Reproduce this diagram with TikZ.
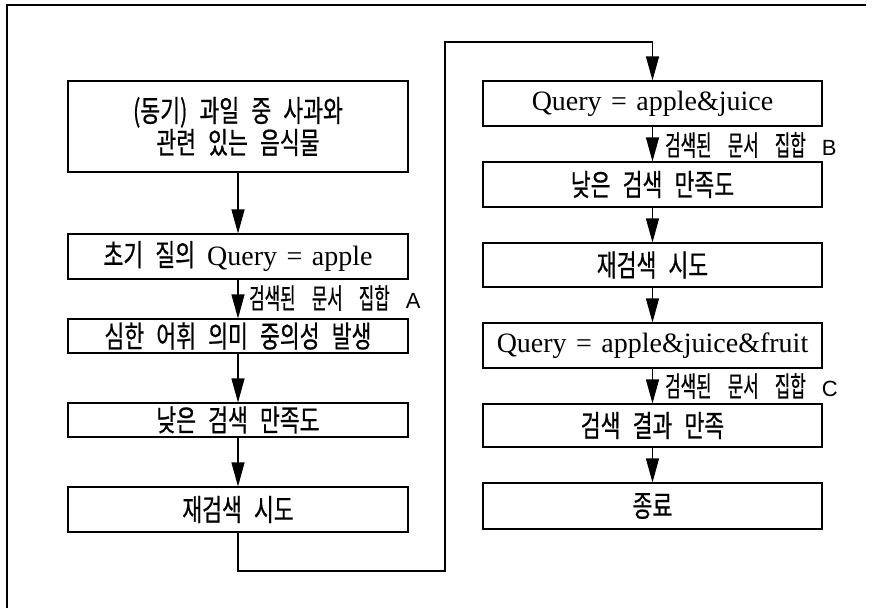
\documentclass[tikz,border=0pt]{standalone}
\usepackage{fontspec}
\setmainfont[WordSpace=1.35]{Liberation Serif}
\newfontfamily\kr[FakeStretch=0.72,WordSpace=2.5,FakeBold=0.6]{Noto Sans CJK KR}
\newfontfamily\krlab[FakeStretch=0.6,WordSpace=4.3,FakeBold=0.5]{Noto Sans CJK KR}
\newfontfamily\lab{Liberation Sans}
\usetikzlibrary{arrows.meta}
\begin{document}
\begin{tikzpicture}[x=1pt,y=-1pt,
  stepbox/.style={draw,line width=1.1pt,inner sep=0pt,align=center,
    font=\kr\fontsize{30}{32}\selectfont},
  lbox/.style={stepbox,minimum width=340pt},
  rbox/.style={stepbox,minimum width=339pt},
  flow/.style={line width=1.1pt,-{Triangle[length=24pt,width=13pt]}},
  setlabel/.style={anchor=west,inner sep=0pt,font=\krlab\fontsize{28}{30}\selectfont},
  qtext/.style={font=\rmfamily\fontsize{28}{32}\selectfont}]
\useasboundingbox (0,0) rectangle (872,608);
% outer frame (top and left edges)
\draw[line width=1.3pt] (7,608) -- (7,5) -- (866,5);

% left column
\node[lbox,minimum height=91pt] (b1) at (238,126.5) {(동기) 과일 중 사과와\\관련 있는 음식물};
\node[lbox,minimum height=45pt] (b2) at (238,256.5) {초기 질의 {\rmfamily\fontsize{28}{32}\selectfont Query = apple}};
\node[lbox,minimum height=34pt] (b3) at (238,336) {심한 어휘 의미 중의성 발생};
\node[lbox,minimum height=34pt] (b4) at (238,420) {낮은 검색 만족도};
\node[lbox,minimum height=45pt] (b5) at (238,509.5) {재검색 시도};

% right column
\node[rbox,minimum height=45pt,qtext] (b6) at (652.5,103.5) {Query = apple\&juice};
\node[rbox,minimum height=45pt] (b7) at (652.5,184.5) {낮은 검색 만족도};
\node[rbox,minimum height=44pt] (b8) at (652.5,265) {재검색 시도};
\node[rbox,minimum height=45pt,qtext] (b9) at (652.5,345.5) {Query = apple\&juice\&fruit};
\node[rbox,minimum height=43pt] (b10) at (652.5,425.5) {검색 결과 만족};
\node[rbox,minimum height=46pt] (b11) at (652.5,506) {종료};

% connectors
\draw[flow] (b1) -- (b2);
\draw[flow] (b2) -- (b3);
\draw[flow] (b3) -- (b4);
\draw[flow] (b4) -- (b5);
\coordinate (t1) at (238,571);
\coordinate (t2) at (445,571);
\coordinate (t3) at (445,42);
\coordinate (t4) at (652.5,42);
\draw[flow] (b5.south) -- (t1) -- (t2) -- (t3) -- (t4) -- (b6.north);
\draw[flow] (b6) -- (b7);
\draw[flow] (b7) -- (b8);
\draw[flow] (b8) -- (b9);
\draw[flow] (b9) -- (b10);
\draw[flow] (b10) -- (b11);

% labels on the retrieval arrows
\node[setlabel] (la) at (249,298) {검색된 문서 집합 {\lab\fontsize{22}{24}\selectfont A}};
\node[setlabel] (lb) at (665,145) {검색된 문서 집합 {\lab\fontsize{22}{24}\selectfont B}};
\node[setlabel] (lc) at (665,386) {검색된 문서 집합 {\lab\fontsize{22}{24}\selectfont C}};
\end{tikzpicture}
\end{document}
